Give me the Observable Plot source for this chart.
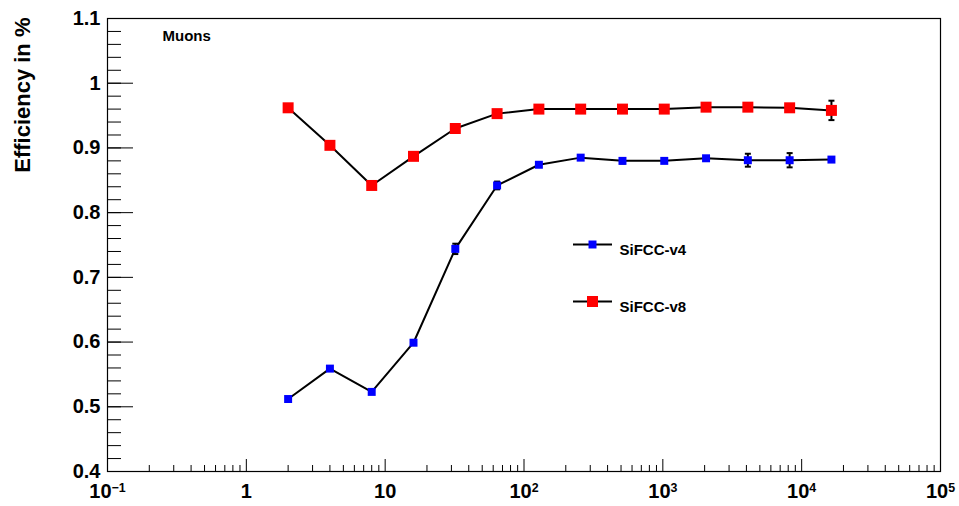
<!DOCTYPE html>
<html><head><meta charset="utf-8">
<script src="https://cdn.jsdelivr.net/npm/d3@7"></script>
<script src="https://cdn.jsdelivr.net/npm/@observablehq/plot@0.6"></script>
<style>
html,body{margin:0;padding:0;background:#fff;}
#chart{width:959px;height:506px;}
</style></head><body><div id="chart"></div>
<script>
// ---- data ----
const energies = [2, 4, 8, 16, 32, 64, 128, 256, 512, 1024, 2048, 4096, 8192, 16384];
const effV4 = [0.512, 0.559, 0.523, 0.599, 0.744, 0.842, 0.874, 0.885, 0.880, 0.880, 0.884, 0.881, 0.881, 0.882];
const errV4 = [0.002, 0.003, 0.003, 0.002, 0.008, 0.006, 0.003, 0.003, 0.004, 0.003, 0.003, 0.010, 0.011, 0.003];
const effV8 = [0.962, 0.904, 0.842, 0.887, 0.930, 0.953, 0.960, 0.960, 0.960, 0.960, 0.963, 0.963, 0.962, 0.958];
const errV8 = [0.003, 0.003, 0.003, 0.003, 0.003, 0.004, 0.003, 0.003, 0.003, 0.003, 0.003, 0.003, 0.005, 0.015];
const seriesNames = ["SiFCC-v4", "SiFCC-v8"];
const seriesColors = ["#0000ff", "#ff0000"];
const annotation = "Muons";
const yTitle = "Efficiency in %";
const xTicks = [0.1, 1, 10, 100, 1000, 10000, 100000];
const xTickLabels = ["10^−1", "1", "10", "10^2", "10^3", "10^4", "10^5"];
const yTicks = [0.4, 0.5, 0.6, 0.7, 0.8, 0.9, 1.0, 1.1];
const yTickLabels = ["0.4", "0.5", "0.6", "0.7", "0.8", "0.9", "1", "1.1"];
const xMinorMultipliers = [2, 3, 4, 5, 6, 7, 8, 9];
const yMinorStep = 0.02;

// ---- derived tables ----
const v4 = energies.map((e, i) => ({e, eff: effV4[i], err: errV4[i]}));
const v8 = energies.map((e, i) => ({e, eff: effV8[i], err: errV8[i]}));
const xMinor = xTicks.slice(0, -1).flatMap(d => xMinorMultipliers.map(k => d * k));
const yMinor = d3.range(0, Math.round((1.1 - 0.4) / yMinorStep) + 1).map(i => +(0.4 + i * yMinorStep).toFixed(2));

// ---- layout/style ----
const W = 959, H = 506, mL = 107, mR = 19, mT = 18, mB = 35;
const fw = W - mL - mR, fh = H - mT - mB;
const font = "'Liberation Sans', Arial, Helvetica, sans-serif";
const capSym = {draw(ctx) { ctx.moveTo(-3, 0); ctx.lineTo(3, 0); }};
const legLine = {draw(ctx) { ctx.moveTo(-19.5, 0); ctx.lineTo(19.5, 0); }};
const labelOf = (ticks, labels) => d => labels[ticks.findIndex(t => Math.abs(t - d) < 1e-9)];

function seriesMarks(data, color, r) {
  const caps = data.flatMap(d => [{e: d.e, y: d.eff - d.err}, {e: d.e, y: d.eff + d.err}]);
  return [
    Plot.line(data, {x: "e", y: "eff", stroke: "black", strokeWidth: 2, curve: "linear"}),
    Plot.ruleX(data, {x: "e", y1: d => d.eff - d.err, y2: d => d.eff + d.err, stroke: "black", strokeWidth: 2}),
    Plot.dot(caps, {x: "e", y: "y", symbol: capSym, stroke: "black", strokeWidth: 2}),
    Plot.dot(data, {x: "e", y: "eff", symbol: "square", fill: color, r})
  ];
}

const legendDy = [226, 283];
const legendR = [4.5, 6.2];
const legendMarks = seriesNames.flatMap((name, i) => [
  Plot.dot([name], {frameAnchor: "top-left", dx: 485, dy: legendDy[i], symbol: legLine, stroke: "black", strokeWidth: 2}),
  Plot.dot([name], {frameAnchor: "top-left", dx: 485, dy: legendDy[i], symbol: "square", fill: seriesColors[i], r: legendR[i]}),
  Plot.text([name], {frameAnchor: "top-left", dx: 512, dy: legendDy[i], text: d => d, textAnchor: "start", fontSize: 15, fontWeight: "bold", fill: "black"})
]);

const plot = Plot.plot({
  width: W, height: H,
  marginLeft: mL, marginRight: mR, marginTop: mT, marginBottom: mB,
  style: {fontFamily: font, background: "white", color: "black"},
  x: {type: "log", domain: [0.1, 1e5]},
  y: {domain: [0.4, 1.1]},
  marks: [
    // inward ticks
    Plot.tickY(yMinor, {y: d => d, stroke: "black", strokeWidth: 1, insetRight: fw - 14}),
    Plot.tickY(yTicks, {y: d => d, stroke: "black", strokeWidth: 1, insetRight: fw - 26}),
    Plot.tickX(xMinor, {x: d => d, stroke: "black", strokeWidth: 1, insetTop: fh - 6}),
    Plot.tickX(xTicks, {x: d => d, stroke: "black", strokeWidth: 1, insetTop: fh - 12}),
    Plot.axisY({ticks: yTicks, tickFormat: labelOf(yTicks, yTickLabels), tickSize: 0, tickPadding: 7, fontSize: 20, fontWeight: "bold", label: null}),
    Plot.axisX({ticks: xTicks, tickFormat: labelOf(xTicks, xTickLabels), tickSize: 0, tickPadding: 12, fontSize: 20, fontWeight: "bold", label: null}),
    Plot.frame({stroke: "black", strokeWidth: 1.2}),
    ...seriesMarks(v8, seriesColors[1], 6.2),
    ...seriesMarks(v4, seriesColors[0], 4.5),
    Plot.text([annotation], {frameAnchor: "top-left", dx: 55, dy: 12, text: d => d, textAnchor: "start", fontSize: 15, fontWeight: "bold", fill: "black"}),
    Plot.text([yTitle], {frameAnchor: "top-left", dx: -93, dy: -1, text: d => d, rotate: -90, textAnchor: "end", fontSize: 22, fontWeight: "bold", fill: "black"}),
    ...legendMarks
  ]
});

// superscripts for the decade labels
d3.select(plot).selectAll('g[aria-label="x-axis tick label"] text').each(function() {
  const t = this.textContent;
  if (t.includes("^")) {
    const [base, exp] = t.split("^");
    const sel = d3.select(this);
    sel.text(base);
    sel.append("tspan").attr("dy", "-0.5em").attr("font-size", "0.62em").text(exp);
  }
});

document.getElementById("chart").appendChild(plot);
</script>
</body></html>
